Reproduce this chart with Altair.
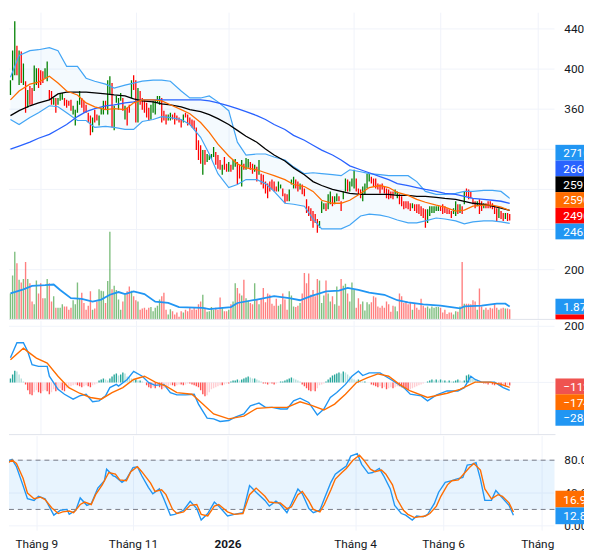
import altair as alt
import pandas as pd

# ---------------- data ----------------
# daily candles (open / close); bodies are the whole visible bar at this scale
opens = [
    3742, 3889, 3938, 4233, 3840, 4174, 3840, 3879, 3614, 3830,
    3811, 3781, 3840, 4007, 3987, 3977, 3909, 3879, 3791, 3781,
    3644, 3712, 3644, 3683, 3693, 3712, 3693, 3683, 3693, 3546,
    3438, 3565, 3644, 3712, 3683, 3644, 3565, 3536, 3369, 3595,
    3546, 3438, 3546, 3546, 3683, 3546, 3742, 3860, 3389, 3663,
    3595, 3683, 3712, 3497, 3614, 3644, 3712, 3938, 3889, 3467,
    3781, 3712, 3693, 3663, 3614, 3497, 3565, 3546, 3663, 3644,
    3712, 3585, 3546, 3487, 3487, 3546, 3565, 3536, 3516, 3497,
    3467, 3565, 3546, 3516, 3497, 3487, 3418, 3290, 3241, 2947,
    3192, 3074, 3094, 3104, 3123, 3173, 3143, 3094, 2947, 3123,
    3055, 2976, 3045, 2996, 3025, 3074, 3045, 2829, 3055, 2996,
    3015, 3074, 3055, 2976, 3025, 2947, 2957, 2947, 2878, 2858,
    2878, 2898, 2878, 2829, 2780, 2809, 2809, 2760, 2751, 2682,
    2849, 2809, 2898, 2878, 2800, 2849, 2809, 2701, 2633, 2613,
    2584, 2554, 2505, 2417, 2564, 2603, 2662, 2603, 2652, 2731,
    2652, 2682, 2731, 2682, 2701, 2780, 2898, 2780, 2829, 2809,
    2908, 2809, 2800, 2682, 2751, 2809, 2878, 2927, 2908, 2908,
    2858, 2849, 2858, 2829, 2809, 2800, 2780, 2780, 2751, 2711,
    2751, 2731, 2682, 2682, 2682, 2662, 2613, 2652, 2652, 2652,
    2633, 2613, 2603, 2466, 2535, 2564, 2564, 2584, 2584, 2633,
    2652, 2633, 2613, 2603, 2584, 2554, 2535, 2652, 2564, 2633,
    2652, 2809, 2800, 2780, 2711, 2682, 2633, 2701, 2682, 2613,
    2662, 2682, 2682, 2662, 2633, 2613, 2515, 2584, 2564, 2505,
    2564, 2554,
]
closes = [
    3889, 4184, 4478, 3938, 4184, 3860, 4056, 3565, 3791, 3644,
    3644, 4036, 4007, 3811, 3840, 3860, 4007, 4076, 3693, 3644,
    3712, 3565, 3712, 3752, 3762, 3634, 3614, 3634, 3585, 3634,
    3595, 3683, 3781, 3614, 3565, 3565, 3467, 3339, 3516, 3467,
    3487, 3536, 3614, 3683, 3595, 3889, 3928, 3418, 3634, 3732,
    3712, 3762, 3585, 3634, 3438, 3565, 3889, 3791, 3467, 3811,
    3644, 3595, 3565, 3516, 3487, 3644, 3683, 3693, 3732, 3732,
    3467, 3487, 3447, 3546, 3565, 3497, 3447, 3487, 3467, 3418,
    3546, 3516, 3438, 3447, 3418, 3398, 3192, 3094, 3055, 3192,
    3045, 3153, 3143, 3153, 3222, 3045, 3006, 2996, 3045, 2996,
    2976, 3074, 2976, 3094, 3104, 2849, 2908, 3094, 2996, 3114,
    3104, 2996, 2957, 3045, 2878, 3094, 2849, 2809, 2760, 2711,
    2780, 2800, 2780, 2780, 2878, 2849, 2731, 2662, 2682, 2800,
    2898, 2927, 2809, 2780, 2858, 2751, 2731, 2564, 2535, 2486,
    2417, 2466, 2368, 2486, 2682, 2662, 2584, 2751, 2780, 2633,
    2731, 2760, 2682, 2584, 2780, 2908, 2780, 2878, 2908, 2996,
    2780, 2751, 2711, 2829, 2858, 2957, 2957, 2858, 2829, 2809,
    2800, 2760, 2800, 2760, 2711, 2701, 2711, 2701, 2800, 2780,
    2652, 2633, 2603, 2613, 2603, 2584, 2662, 2584, 2564, 2554,
    2535, 2515, 2417, 2603, 2633, 2633, 2633, 2633, 2633, 2584,
    2554, 2564, 2554, 2554, 2515, 2613, 2682, 2554, 2652, 2554,
    2780, 2731, 2701, 2711, 2652, 2613, 2682, 2554, 2584, 2662,
    2613, 2613, 2613, 2603, 2554, 2486, 2613, 2505, 2486, 2564,
    2486, 2490,
]
# volume, millions
volumes = [
    3.8, 6.4, 9.9, 8.2, 5.8, 5.4, 5.9, 8.4, 5.9, 5.3,
    2.6, 2.2, 5.7, 3.8, 5.3, 3.1, 3.1, 5.9, 5.3, 2.6,
    3.4, 1.7, 1.7, 1.7, 2.2, 1.9, 1.9, 1.4, 1.7, 2.8,
    2.2, 5.4, 3.1, 3.9, 2.4, 1.4, 2.0, 4.1, 1.4, 1.6,
    2.6, 4.4, 4.2, 4.1, 2.4, 5.6, 12.8, 4.4, 4.9, 4.3,
    2.9, 1.4, 2.6, 3.6, 4.1, 4.8, 4.2, 3.4, 2.8, 2.6,
    1.4, 1.6, 1.7, 1.4, 1.7, 1.8, 1.2, 1.7, 2.0, 2.9,
    3.4, 3.9, 1.4, 0.7, 1.5, 1.2, 0.7, 1.0, 0.4, 1.2,
    1.0, 1.4, 1.2, 1.8, 1.4, 1.8, 1.4, 2.2, 2.6, 3.6,
    1.7, 1.1, 1.2, 1.8, 1.4, 1.7, 1.4, 3.2, 1.7, 1.2,
    1.2, 1.4, 2.2, 2.6, 5.3, 4.6, 3.8, 3.5, 5.8, 3.1,
    2.7, 2.4, 2.2, 5.3, 2.9, 2.2, 3.0, 4.6, 2.5, 3.8,
    3.6, 2.3, 2.0, 3.0, 2.0, 2.2, 3.8, 2.9, 1.4, 4.1,
    3.5, 1.9, 1.8, 2.0, 2.4, 3.8, 6.8, 5.3, 6.7, 3.6,
    4.3, 3.4, 5.9, 5.7, 2.4, 3.5, 5.7, 3.8, 2.6, 3.4,
    2.2, 4.8, 2.0, 5.9, 4.9, 5.2, 3.8, 2.6, 5.4, 4.3,
    1.7, 3.1, 2.2, 2.6, 1.3, 2.5, 2.2, 2.5, 3.4, 3.2,
    1.9, 1.7, 2.0, 1.7, 2.6, 2.2, 1.1, 2.0, 1.9, 1.2,
    3.8, 3.4, 2.4, 2.6, 2.2, 2.4, 1.4, 2.3, 1.7, 1.4,
    3.0, 2.0, 1.7, 1.9, 1.6, 1.9, 1.7, 1.8, 1.8, 1.7,
    1.0, 1.4, 0.8, 1.0, 1.0, 0.7, 1.2, 1.1, 1.9, 8.4,
    2.3, 2.3, 2.3, 2.2, 2.8, 2.6, 1.4, 4.5, 1.9, 1.4,
    1.7, 1.4, 1.7, 1.6, 2.4, 1.7, 1.4, 1.6, 1.7, 1.6,
    1.6, 1.5,
]
# MACD histogram per bar
macd_hist = [
    140, 280, 420, 385, 280, 140,
    35, -70,
    -280, -420, -455, -350, -280,
    -350, -385, -315, -280,
    -315, -420, -350, -245, -315, -280,
    -210, -280, -315, -210, -175, -140,
    -105, -70, -105, -140, -175, -140, -105,
    -140, -175, -105, -70, -35,
    70, 105, 140, 105, 70, 140,
    210, 280, 315, 245, 280, 350, 315, 210, 175,
    140, 105, 105, 70, 70, 35, 0,
    -105, -175, -210, -175, -210, -140, -175, -245, -210, -175, -140, -105,
    -105, -140, -105, -70, -70, -105, -70, -35, -35, -70, -105, -140, -175,
    -280, -420, -490, -455, -350, -245,
    -210, -175, -140, -105, -105, -70, -35, -35,
    35, 70, 70, 105, 70, 105,
    140, 175, 210, 175, 140, 140, 105, 70,
    35, -35, -35, -70, -35, -35, -70, -35, 0, 35,
    35, 70, 105, 140, 175, 140, 105, 70, 35,
    -70, -140, -210, -280, -315, -280, -315, -210, -105,
    -70, -35, 35,
    105, 175, 245, 280, 315, 350, 315, 385, 350, 280, 210, 140,
    105, 70, 105, 70, 35, 35, 0, 0,
    -70, -105, -140, -175, -140, -210, -175, -245, -210, -175, -210, -175, -140, -140,
    -175, -210, -245, -280, -245, -210, -175, -140, -105, -70,
    -35, 0, 35, 70, 105, 70, 105,
    70, 105, 70, 70, 35, 70, 35, 35, 70, 105, 70, 35, 70,
    245, 280, 210, 140,
    105, 70, 35, 0, -35,
    -35, -70, -35, -70, -105, -70, -105, -140, -105, -140, -105, -112,
]

# overlay lines (read at these bars)
line_bars = [0, 4, 9, 13, 18, 22, 26, 31, 35, 39, 44, 48, 53, 57, 61, 66, 70, 74, 79, 83,
             88, 92, 96, 101, 105, 109, 114, 118, 122, 127, 131, 136, 140, 144, 149, 153, 157, 162, 166, 171,
             175, 179, 184, 188, 192, 197, 201, 206, 210, 214, 219, 223, 227, 231]
bb_upper = [3919, 4135, 4184, 4193, 4213, 4184, 4027, 4027, 3909, 3879,
            3850, 3811, 3840, 3860, 3879, 3889, 3889, 3879, 3781, 3712,
            3712, 3732, 3673, 3585, 3271, 3143, 3153, 3153, 3123, 3094,
            3025, 2957, 2966, 2957, 2947, 2937, 2996, 2976, 2957, 2947,
            2937, 2937, 2937, 2878, 2780, 2751, 2751, 2760, 2780, 2780,
            2790, 2790, 2780, 2711]
bb_lower = [3497, 3447, 3516, 3565, 3634, 3624, 3565, 3487, 3487, 3418,
            3428, 3418, 3398, 3398, 3477, 3497, 3526, 3516, 3497, 3447,
            3320, 3153, 2957, 2819, 2849, 2898, 2898, 2858, 2780, 2662,
            2652, 2633, 2505, 2407, 2407, 2407, 2446, 2535, 2554, 2544,
            2525, 2495, 2466, 2466, 2486, 2515, 2505, 2486, 2456, 2476,
            2486, 2486, 2476, 2462]
bb_basis = [3693, 3781, 3850, 3870, 3928, 3860, 3781, 3742, 3663, 3624,
            3595, 3605, 3595, 3663, 3693, 3693, 3683, 3644, 3595, 3555,
            3467, 3369, 3251, 3133, 3055, 3015, 2996, 2966, 2937, 2898,
            2849, 2829, 2780, 2692, 2662, 2662, 2692, 2760, 2819, 2839,
            2819, 2770, 2741, 2701, 2672, 2643, 2623, 2584, 2594, 2633,
            2643, 2643, 2623, 2590]
ma50 = [3536, 3585, 3634, 3663, 3693, 3752, 3771, 3771, 3771, 3762,
        3752, 3742, 3732, 3703, 3683, 3673, 3654, 3644, 3624, 3595,
        3575, 3546, 3506, 3447, 3389, 3330, 3271, 3202, 3143, 3084,
        3015, 2947, 2878, 2839, 2800, 2780, 2760, 2751, 2751, 2751,
        2751, 2741, 2741, 2731, 2731, 2721, 2711, 2701, 2682, 2662,
        2652, 2633, 2613, 2591]
ma200 = [3202, 3232, 3271, 3310, 3349, 3398, 3447, 3526, 3575, 3605,
         3634, 3644, 3663, 3673, 3693, 3693, 3693, 3693, 3693, 3693,
         3693, 3683, 3663, 3634, 3605, 3575, 3536, 3497, 3447, 3398,
         3339, 3290, 3241, 3192, 3143, 3094, 3035, 2996, 2966, 2927,
         2898, 2858, 2839, 2819, 2800, 2780, 2760, 2751, 2731, 2711,
         2701, 2692, 2682, 2662]

vol_ma_bars = [0, 6, 10, 16, 20, 23, 28, 33, 38, 42, 46, 50, 53, 57, 62, 67, 73, 78, 89, 92,
               102, 105, 114, 122, 129, 134, 139, 146, 152, 156, 161, 166, 173, 179, 184, 191, 199, 208, 210, 218,
               225, 229, 231]
vol_ma = [3.8, 4.4, 4.9, 5.0, 5.1, 4.3, 3.1, 3.0, 2.6, 2.9, 3.6, 4.0, 3.7, 4.1, 3.7, 2.6, 2.4, 1.8, 1.7, 1.5,
          1.8, 2.4, 2.9, 3.4, 3.1, 2.8, 3.4, 4.1, 4.2, 4.6, 4.3, 3.9, 3.6, 2.8, 2.5, 2.2, 2.0, 1.6, 1.9, 2.0,
          2.3, 2.3, 1.87]

macd_bars = [0, 3, 6, 8, 10, 13, 17, 18, 22, 25, 29, 32, 35, 38, 41, 44, 46, 49, 50, 54,
             57, 61, 64, 67, 71, 74, 77, 81, 85, 87, 91, 94, 97, 101, 104, 108, 111, 115, 118, 121,
             125, 128, 131, 134, 138, 142, 145, 148, 151, 155, 158, 161, 163, 166, 171, 176, 182, 185, 190, 193,
             197, 202, 207, 210, 213, 215, 218, 224, 228, 231]
macd_line = [878, 1415, 1415, 1099, 632, 572, 572, 221, -246, -421,
             -597, -481, -421, -691, -656, -481, -186, -70, -130, 105,
             397, 221, -11, -105, -70, -362, -446, -446, -421, -772,
             -1274, -1299, -1393, -1358, -1239, -1123, -832, -737, -888, -888,
             -948, -948, -656, -562, -713, -1158, -948, -537, -362, -70,
             221, 397, 246, 340, 340, 105, -186, -421, -481, -656,
             -456, -305, -305, -186, 221, 105, 11, 11, -186, -286]
signal_bars = [0, 6, 8, 12, 17, 22, 27, 32, 37, 42, 47, 52, 57, 62, 67, 72, 77, 84, 89, 94,
               101, 108, 114, 121, 128, 134, 139, 145, 150, 155, 160, 165, 170, 175, 180, 185, 193, 202, 208, 215,
               222, 227, 231]
signal_line = [807, 1218, 1099, 867, 691, 221, -186, -386, -537, -597,
               -362, -186, 105, 221, 11, -130, -362, -421, -772, -1123,
               -1299, -1204, -923, -888, -888, -691, -807, -983, -772, -421,
               -11, 165, 305, 221, -70, -305, -537, -386, -246, 11,
               11, -70, -174]

k_bars = [0, 2, 3, 5, 8, 10, 13, 15, 18, 20, 22, 25, 28, 29, 32, 34, 37, 39, 42, 45,
          46, 49, 50, 53, 55, 58, 60, 62, 65, 67, 70, 72, 75, 77, 81, 84, 87, 89, 92, 95,
          97, 101, 104, 108, 111, 114, 118, 120, 123, 125, 128, 130, 133, 135, 138, 140, 143, 145, 148, 150,
          152, 155, 157, 160, 162, 165, 167, 170, 172, 175, 177, 180, 182, 185, 187, 190, 192, 195, 197, 200,
          203, 205, 208, 210, 212, 214, 216, 218, 221, 223, 225, 229, 231]
stoch_k = [71, 80, 81, 72, 49, 33, 31, 36, 33, 23, 13, 19, 20, 14, 19, 34, 25, 27, 46, 55,
           69, 61, 60, 53, 57, 71, 72, 61, 47, 39, 45, 33, 13, 14, 19, 30, 21, 7, 15, 29,
           24, 12, 14, 16, 49, 41, 31, 24, 30, 26, 16, 27, 45, 39, 21, 16, 19, 33, 53, 63,
           67, 73, 85, 88, 75, 64, 65, 70, 61, 45, 25, 15, 13, 7, 12, 11, 14, 27, 41, 53,
           55, 57, 59, 74, 75, 77, 57, 31, 31, 43, 37, 25, 12.8]
d_bars = [0, 3, 5, 8, 10, 13, 16, 18, 21, 24, 26, 29, 31, 34, 36, 39, 41, 44, 47, 50,
          52, 55, 57, 60, 62, 66, 68, 71, 73, 76, 78, 81, 84, 87, 89, 92, 95, 97, 101, 104,
          108, 111, 114, 118, 120, 123, 125, 128, 130, 133, 135, 138, 140, 143, 145, 148, 150, 153, 155, 158,
          161, 163, 166, 168, 171, 173, 176, 178, 181, 183, 186, 188, 191, 193, 196, 198, 201, 203, 206, 208,
          211, 213, 216, 218, 221, 224, 226, 229, 231]
stoch_d = [75, 80, 76, 58, 40, 33, 35, 32, 22, 15, 17, 18, 16, 26, 29, 26, 38, 50, 65, 63,
           56, 55, 66, 72, 66, 52, 42, 44, 38, 20, 15, 17, 25, 26, 14, 12, 24, 26, 17, 14,
           15, 38, 46, 36, 29, 28, 28, 21, 23, 38, 42, 30, 20, 17, 26, 44, 57, 65, 70, 80,
           86, 80, 69, 66, 68, 63, 50, 33, 19, 14, 10, 11, 12, 15, 24, 36, 50, 55, 56, 62,
           71, 76, 68, 45, 33, 38, 36, 28, 16.9]

month_bars = [14, 58, 101, 159, 199, 244]
month_labels = ["Tháng 9", "Tháng 11", "2026", "Tháng 4", "Tháng 6", "Tháng 8"]
price_grid = [2000, 2400, 2800, 3200, 3600, 4000, 4400]
price_labels = ["2000", "3600", "4000", "4400"]        # the others sit under the value tags
macd_grid = [0, 2000]
macd_labels = ["2000"]
stoch_grid = [0, 40, 80]
stoch_labels = ["0.00", "40.00", "80.00"]
stoch_levels = [20, 80]

price_tags = ["2710", "2662", "2591", "2590", "2490", "2462"]
volume_tag = "1.87"
macd_tags = ["−112", "−174", "−286"]
stoch_tags = ["16.9", "12.8"]

# ---------------- tables ----------------
n = len(opens)
cdf = pd.DataFrame({"bar": list(range(n)), "open": opens, "close": closes,
                    "volume": volumes, "hist": macd_hist})
cdf["dir"] = ["up" if c >= o else "down" for o, c in zip(opens, closes)]
hc = []
prev = 0
for v in macd_hist:
    if v >= 0:
        hc.append("pu" if v >= prev else "pd")
    else:
        hc.append("nd" if v <= prev else "nu")
    prev = v
cdf["hc"] = hc

ldf = pd.DataFrame({"bar": line_bars, "upper": bb_upper, "lower": bb_lower,
                    "basis": bb_basis, "ma50": ma50, "ma200": ma200})
vdf = pd.DataFrame({"bar": vol_ma_bars, "vma": vol_ma})
mdf = pd.DataFrame({"bar": macd_bars, "macd": macd_line})
sdf = pd.DataFrame({"bar": signal_bars, "sig": signal_line})
kdf = pd.DataFrame({"bar": k_bars, "k": stoch_k})
ddf = pd.DataFrame({"bar": d_bars, "d": stoch_d})

# ---------------- styling ----------------
PW = 554          # drawing area (left of the price scale)
W = 584           # full pane width, price scale included (ends at the window edge)
H1, H2, H3 = 312, 116, 96
LAB_X = PW + 10
FONT = "Roboto"
GRID = "#f0f3fa"
SEP = "#e0e3eb"
TXT = "#131722"
UP, DOWN = "#008000", "#ff0000"
BLUE, ORANGE, MA200C = "#2196f3", "#ff6d00", "#2962ff"

xscale = alt.Scale(domain=[1.6, 263.1], nice=False, zero=False)
x_hidden = alt.Axis(values=month_bars, labels=False, ticks=False, domain=False,
                    grid=True, gridColor=GRID, title=None)
label_expr = " : ".join(f"datum.value == {b} ? '{l}'" for b, l in zip(month_bars, month_labels)) + " : ''"
x_bottom = alt.Axis(values=month_bars, labelExpr=label_expr, ticks=False, domain=False,
                    grid=True, gridColor=GRID, title=None, labelPadding=9, labelFont=FONT,
                    labelFontSize=12, labelColor=TXT, labelFlush=False, labelOverlap=False,
                    labelFontWeight={"condition": {"test": f"datum.value == {month_bars[2]}", "value": "bold"},
                                     "value": "normal"})


def hgrid(values, scale):
    d = pd.DataFrame({"v": values})
    return alt.Chart(d).mark_rule(color=GRID, strokeWidth=1).encode(
        y=alt.Y("v:Q", scale=scale, axis=None), x=alt.value(0), x2=alt.value(PW))


def ylabels(values, texts, scale):
    d = pd.DataFrame({"v": values, "t": texts})
    return alt.Chart(d).mark_text(align="left", baseline="middle", font=FONT, fontSize=12,
                                  color=TXT, clip=True).encode(
        x=alt.value(LAB_X), y=alt.Y("v:Q", scale=scale, axis=None), text="t:N")


def separator(h):
    return alt.Chart(pd.DataFrame({"t": [""]})).mark_rule(color=SEP, strokeWidth=1).encode(
        y=alt.value(h), x=alt.value(0), x2=alt.value(PW + 1))


dir_color = alt.Color("dir:N", scale=alt.Scale(domain=["up", "down"], range=[UP, DOWN]), legend=None)


def tags(texts, colors, top, h=16):
    out = []
    for i, (t, c) in enumerate(zip(texts, colors)):
        d = pd.DataFrame({"t": [t]})
        y0 = top + i * h
        out.append(alt.Chart(d).mark_rect(color=c).encode(
            x=alt.value(PW + 1), x2=alt.value(W), y=alt.value(y0), y2=alt.value(y0 + h)))
        out.append(alt.Chart(d).mark_text(align="left", baseline="middle", color="white",
                                          font=FONT, fontSize=12, clip=True).encode(
            x=alt.value(PW + 9), y=alt.value(y0 + h / 2 + 0.5), text="t:N"))
    return out


# ---------------- price pane ----------------
X1 = alt.X("bar:Q", scale=xscale, axis=x_hidden)
pscale = alt.Scale(domain=[1504, 4567], nice=False, zero=False)
vscale = alt.Scale(domain=[0, 44.9], nice=False, zero=True)

vol_layer = alt.layer(
    alt.Chart(cdf).mark_bar(size=1.4, opacity=0.5, clip=True).encode(
        x=X1, y=alt.Y("volume:Q", scale=vscale, axis=None, stack=None), color=dir_color),
    alt.Chart(vdf).mark_line(color=BLUE, strokeWidth=1.8, clip=True).encode(
        x=X1, y=alt.Y("vma:Q", scale=vscale, axis=None)),
)

band = alt.Chart(ldf).mark_area(color=BLUE, opacity=0.05, clip=True).encode(
    x=X1, y=alt.Y("lower:Q", scale=pscale, axis=None), y2="upper:Q")


def pline(field, color, w):
    return alt.Chart(ldf).mark_line(color=color, strokeWidth=w, clip=True).encode(
        x=X1, y=alt.Y(f"{field}:Q", scale=pscale, axis=None))


candles = alt.Chart(cdf).mark_rule(strokeWidth=1.3, clip=True).encode(
    x=X1, y=alt.Y("open:Q", scale=pscale, axis=None), y2="close:Q", color=dir_color)

price_layer = alt.layer(
    hgrid(price_grid, pscale),
    band, candles,
    pline("upper", "#42a5f5", 1.2), pline("lower", "#42a5f5", 1.2),
    pline("ma200", MA200C, 1.3), pline("ma50", "#000000", 1.3), pline("basis", ORANGE, 1.3),
    ylabels([int(t) for t in price_labels], price_labels, pscale),
)

price_tag_layers = tags(price_tags, [BLUE, MA200C, "#000000", ORANGE, DOWN, BLUE], 134.7)
price_tag_layers += tags([volume_tag], [BLUE], 291)
price_tag_layers.append(
    alt.Chart(pd.DataFrame({"t": [""]})).mark_rect(color=DOWN).encode(
        x=alt.value(PW + 1), x2=alt.value(W), y=alt.value(307), y2=alt.value(312)))
price_tag_layers.append(separator(H1))

price = alt.layer(price_layer, vol_layer, *price_tag_layers).resolve_scale(
    y="independent").properties(width=W, height=H1)

# ---------------- MACD pane ----------------
X2 = alt.X("bar:Q", scale=xscale, axis=x_hidden)
mscale = alt.Scale(domain=[-1860, 2211], nice=False, zero=False)
hist = alt.Chart(cdf).mark_bar(size=1.4, clip=True).encode(
    x=X2, y=alt.Y("hist:Q", scale=mscale, axis=None, stack=None),
    color=alt.Color("hc:N", scale=alt.Scale(domain=["pu", "pd", "nd", "nu"],
                                            range=["#26a69a", "#b2dfdb", "#ff5252", "#ffcdd2"]),
                    legend=None))
mline = alt.Chart(mdf).mark_line(color=BLUE, strokeWidth=1.4, clip=True).encode(
    x=X2, y=alt.Y("macd:Q", scale=mscale, axis=None))
sline = alt.Chart(sdf).mark_line(color=ORANGE, strokeWidth=1.4, clip=True).encode(
    x=X2, y=alt.Y("sig:Q", scale=mscale, axis=None))
macd = alt.layer(hgrid(macd_grid, mscale), hist, mline, sline,
                 ylabels([int(t) for t in macd_labels], macd_labels, mscale),
                 *tags(macd_tags, ["#ef5350", ORANGE, BLUE], 59), separator(H2)).properties(
    width=W, height=H2)

# ---------------- Stochastic pane ----------------
X3 = alt.X("bar:Q", scale=xscale, axis=x_bottom)
sscale = alt.Scale(domain=[-5.2, 110], nice=False, zero=False)
lev = pd.DataFrame({"lo": [stoch_levels[0]], "hi": [stoch_levels[1]]})
levels = pd.DataFrame({"level": stoch_levels})
band2 = alt.Chart(lev).mark_rect(color=BLUE, opacity=0.1).encode(
    x=alt.value(0), x2=alt.value(PW), y=alt.Y("hi:Q", scale=sscale, axis=None), y2="lo:Q")
dash = alt.Chart(levels).mark_rule(color="#787b86", strokeDash=[5, 4], strokeWidth=1).encode(
    y=alt.Y("level:Q", scale=sscale, axis=None), x=alt.value(0), x2=alt.value(PW))
kline = alt.Chart(kdf).mark_line(color=BLUE, strokeWidth=1.4, clip=True).encode(
    x=X3, y=alt.Y("k:Q", scale=sscale, axis=None))
dline = alt.Chart(ddf).mark_line(color=ORANGE, strokeWidth=1.4, clip=True).encode(
    x=X3, y=alt.Y("d:Q", scale=sscale, axis=None))
cover = alt.Chart(pd.DataFrame({"t": [""]})).mark_rect(color="white").encode(
    x=alt.value(PW + 0.5), x2=alt.value(W), y=alt.value(H3 + 2), y2=alt.value(H3 + 20))
stoch = alt.layer(hgrid(stoch_grid, sscale), band2, dash, kline, dline,
                  ylabels(stoch_grid, stoch_labels, sscale), cover,
                  *tags(stoch_tags, [ORANGE, BLUE], 56, 17)).properties(width=W, height=H3)

chart = alt.vconcat(price, macd, stoch, spacing=0).resolve_scale(
    x="independent", y="independent", color="independent"
).properties(padding=0).configure_view(stroke=None)

chart.save("out.html", embed_options={"renderer": "svg", "actions": False})
